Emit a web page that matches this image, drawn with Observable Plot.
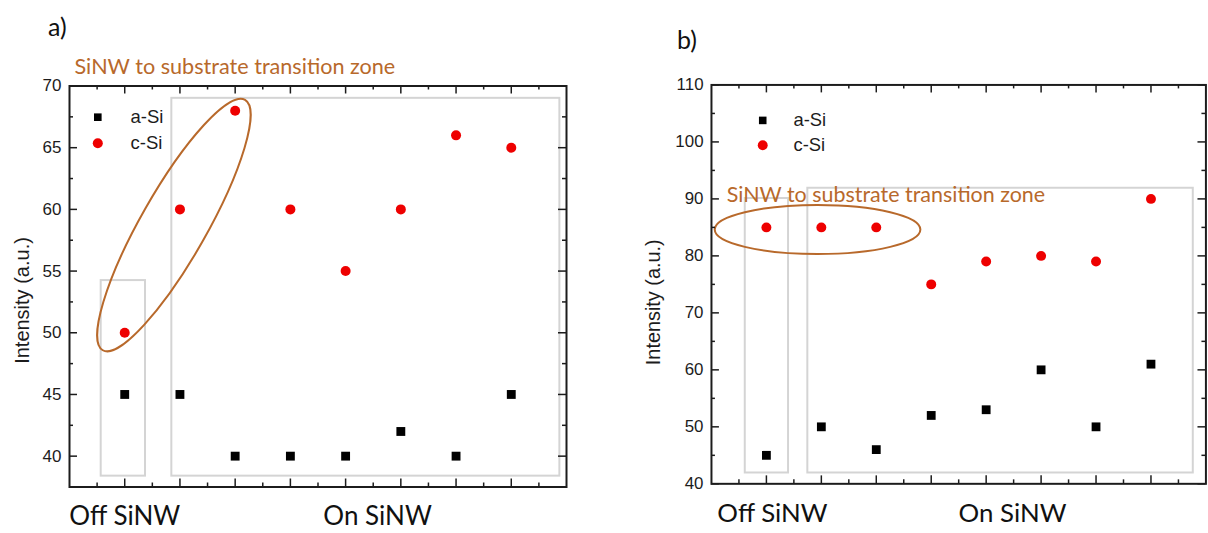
<!DOCTYPE html>
<html>
<head>
<meta charset="utf-8">
<script src="https://cdn.jsdelivr.net/npm/d3@7"></script>
<script src="https://cdn.jsdelivr.net/npm/@observablehq/plot@0.6"></script>
<style>
  body { margin: 0; background: #fff; }
  #wrap { position: relative; width: 1208px; height: 533px; overflow: hidden; background: #fff; }
  .panel { position: absolute; top: 0; }
  .plab { position: absolute; font-family: Lato, "Open Sans", sans-serif; font-size: 25px; line-height: 1; color: #111; }
</style>
</head>
<body>
<div id="wrap">
  <div class="plab" style="left:48px;top:14px;">a)</div>
  <div class="plab" style="left:677px;top:27px;">b)</div>
  <div id="pa" class="panel" style="left:0px;"></div>
  <div id="pb" class="panel" style="left:600px;"></div>
</div>
<script>
// ---------- data ----------
const positions = [1, 2, 3, 4, 5, 6, 7, 8];
const aSi_a = [45, 45, 40, 40, 40, 42, 40, 45];
const cSi_a = [50, 60, 68, 60, 55, 60, 66, 65];
const aSi_b = [45, 50, 46, 52, 53, 60, 50, 61];
const cSi_b = [85, 85, 85, 75, 79, 80, 79, 90];
const seriesNames = ["a-Si", "c-Si"];
const yTicks_a = [40, 45, 50, 55, 60, 65, 70];
const yMinor_a = [42.5, 47.5, 52.5, 57.5, 62.5, 67.5];
const yTicks_b = [40, 50, 60, 70, 80, 90, 100, 110];
const yMinor_b = [45, 55, 65, 75, 85, 95, 105];
const xMinor = [0.5, 1.5, 2.5, 3.5, 4.5, 5.5, 6.5, 7.5, 8.5];
const groupLabels_a = [{x: 1, label: "Off SiNW"}, {x: 5.58, label: "On SiNW"}];
const groupLabels_b = [{x: 1.11, label: "Off SiNW"}, {x: 5.48, label: "On SiNW"}];
const zoneLabel = "SiNW to substrate transition zone";
const yTitle = "Intensity (a.u.)";
// annotation boxes (data units)
const boxes_a = [{x1: 0.574, x2: 1.376, y1: 38.38, y2: 54.23}, {x1: 1.853, x2: 8.88, y1: 38.38, y2: 69.0}];
const boxes_b = [{x1: 0.615, x2: 1.403, y1: 41.9, y2: 90.07}, {x1: 1.754, x2: 8.77, y1: 41.9, y2: 91.87}];
const ellipse_a = {cx: 1.90, cy: 58.69, rx: 144, ry: 33, angle: -60.4};
const ellipse_b = {cx: 1.94, cy: 84.54, rx: 103.5, ry: 24.7, angle: 0};

const BROWN = "#b8692b";
const RED = "#ee0000";
const INK = "#1c1c1c";
const SANS = "'Liberation Sans', Arial, sans-serif";
const CAL = "Lato, 'Open Sans', sans-serif";

function ellipseMark(e) {
  return (index, scales) => {
    return d3.create("svg:ellipse")
      .attr("transform", `translate(${scales.x(e.cx)},${scales.y(e.cy)}) rotate(${e.angle})`)
      .attr("rx", e.rx).attr("ry", e.ry)
      .attr("fill", "none").attr("stroke", BROWN).attr("stroke-width", 2)
      .node();
  };
}

function makePanel(c) {
  const frameW = c.width - c.ml - c.mr;
  const frameH = c.height - c.mt - c.mb;
  const aData = positions.map((p, i) => ({x: p, y: c.aSi[i]}));
  const cData = positions.map((p, i) => ({x: p, y: c.cSi[i]}));
  const MAJ = 8, MIN = 4;
  const tickStyle = {stroke: INK, strokeWidth: 1.5};
  return Plot.plot({
    width: c.width, height: c.height,
    marginLeft: c.ml, marginRight: c.mr, marginTop: c.mt, marginBottom: c.mb,
    style: {fontFamily: SANS, fontSize: "17px", color: INK, background: "transparent", overflow: "visible"},
    x: {domain: [0, 9], axis: null},
    y: {domain: c.yDomain, axis: null},
    marks: [
      Plot.rect(c.boxes, {x1: "x1", x2: "x2", y1: "y1", y2: "y2", fill: "none", stroke: "#d4d4d4", strokeWidth: 2}),
      ellipseMark(c.ellipse),
      Plot.text([zoneLabel], {...c.zoneText, lineAnchor: "middle", textAnchor: "start", fontFamily: CAL, fontSize: 21.6, fill: BROWN}),
      // inward ticks: bottom / top
      Plot.ruleX(positions, {x: d => d, insetTop: frameH - MAJ, ...tickStyle}),
      Plot.ruleX(xMinor, {x: d => d, insetTop: frameH - MIN, ...tickStyle}),
      Plot.ruleX(positions, {x: d => d, insetBottom: frameH - MAJ, ...tickStyle}),
      Plot.ruleX(xMinor, {x: d => d, insetBottom: frameH - MIN, ...tickStyle}),
      // inward ticks: left / right
      Plot.ruleY(c.yTicks, {y: d => d, insetRight: frameW - MAJ, ...tickStyle}),
      Plot.ruleY(c.yMinor, {y: d => d, insetRight: frameW - MIN, ...tickStyle}),
      Plot.ruleY(c.yTicks, {y: d => d, insetLeft: frameW - MAJ, ...tickStyle}),
      Plot.ruleY(c.yMinor, {y: d => d, insetLeft: frameW - MIN, ...tickStyle}),
      Plot.frame({stroke: INK, strokeWidth: 2}),
      // tick labels
      Plot.text(c.yTicks, {y: d => d, text: d => String(d), frameAnchor: "left", dx: -8, textAnchor: "end", lineAnchor: "middle", fill: INK}),
      // y title
      Plot.text([yTitle], {text: d => d, frameAnchor: "left", rotate: -90, dx: c.titleDx, dy: c.titleDy, textAnchor: "middle", lineAnchor: "middle", fontSize: 20, fill: INK}),
      // data
      Plot.dot(aData, {x: "x", y: "y", symbol: "square", r: 5, fill: "#000", stroke: "none"}),
      Plot.dot(cData, {x: "x", y: "y", symbol: "circle", r: 5, fill: RED, stroke: "none"}),
      // legend
      Plot.dot([seriesNames[0]], {frameAnchor: "top-left", dx: c.leg.dx, dy: c.leg.dy1, symbol: "square", r: 4.3, fill: "#000", stroke: "none"}),
      Plot.dot([seriesNames[1]], {frameAnchor: "top-left", dx: c.leg.dx, dy: c.leg.dy2, symbol: "circle", r: 5, fill: RED, stroke: "none"}),
      Plot.text([seriesNames[0]], {text: d => d, frameAnchor: "top-left", dx: c.leg.tx, dy: c.leg.dy1, textAnchor: "start", lineAnchor: "middle", fontSize: 18.5, fill: INK}),
      Plot.text([seriesNames[1]], {text: d => d, frameAnchor: "top-left", dx: c.leg.tx, dy: c.leg.dy2, textAnchor: "start", lineAnchor: "middle", fontSize: 18.5, fill: INK}),
      // group labels under the axis
      Plot.text(c.groups, {x: "x", text: "label", frameAnchor: "bottom", dy: 30, lineAnchor: "middle", fontFamily: CAL, fontSize: 26, fill: "#111"})
    ]
  });
}

const pa = makePanel({
  width: 600, height: 533, ml: 69, mr: 34, mt: 85.5, mb: 46.5,
  yDomain: [37.5, 70], yTicks: yTicks_a, yMinor: yMinor_a,
  aSi: aSi_a, cSi: cSi_a, boxes: boxes_a, ellipse: ellipse_a,
  zoneText: {text: d => d, frameAnchor: "top-left", dx: 5, dy: -19},
  titleDx: -47, titleDy: 14,
  leg: {dx: 28.3, dy1: 31.2, dy2: 57.2, tx: 61},
  groups: groupLabels_a
});
const pb = makePanel({
  width: 612, height: 533, ml: 111.7, mr: 2.6, mt: 85, mb: 46.5,
  yDomain: [40, 110], yTicks: yTicks_b, yMinor: yMinor_b,
  aSi: aSi_b, cSi: cSi_b, boxes: boxes_b, ellipse: ellipse_b,
  zoneText: {x: 0.277, y: 90.71, text: d => d},
  titleDx: -58, titleDy: 18,
  leg: {dx: 51.6, dy1: 35.7, dy2: 60.7, tx: 82.6},
  groups: groupLabels_b
});
document.getElementById("pa").appendChild(pa);
document.getElementById("pb").appendChild(pb);
</script>
</body>
</html>
